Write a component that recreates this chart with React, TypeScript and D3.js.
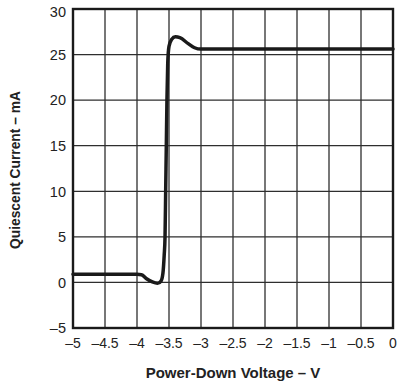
import React from "react";
import * as d3 from "d3";

const xTicks = [-5, -4.5, -4, -3.5, -3, -2.5, -2, -1.5, -1, -0.5, 0];
const yTicks = [-5, 0, 5, 10, 15, 20, 25, 30];
const voltage = [-5, -4.0, -3.93, -3.85, -3.76, -3.68, -3.625, -3.595, -3.575, -3.562, -3.552, -3.542, -3.532, -3.52, -3.5, -3.46, -3.4, -3.33, -3.2, -3.1, -3.0, 0];
const current = [0.9, 0.9, 0.85, 0.4, 0.05, -0.1, 0.15, 1, 3, 5, 10, 15, 20, 24, 25.9, 26.65, 26.95, 26.85, 26.2, 25.75, 25.6, 25.6];

const fmt = (v: number) => (v < 0 ? "\u2013" + String(Math.abs(v)) : String(v));

export default function App() {
  const W = 400, H = 384;
  const left = 73, right = 393, top = 9, bottom = 328;
  const x = d3.scaleLinear().domain([-5, 0]).range([left, right]);
  const y = d3.scaleLinear().domain([-5, 30]).range([bottom, top]);
  const pts = voltage.map((v, i) => [v, current[i]] as [number, number]);
  const line = d3
    .line<[number, number]>()
    .x((d) => x(d[0]))
    .y((d) => y(d[1]))
    .curve(d3.curveMonotoneX);
  const font = "'Liberation Sans', Arial, sans-serif";
  return (
    <svg width={W} height={H} style={{ position: "absolute", left: 0, top: 0 }}>
      <rect width={W} height={H} fill="#fff" />
      {xTicks.map((t) => (
        <line key={"gx" + t} x1={x(t)} x2={x(t)} y1={top} y2={bottom} stroke="#2e2e2e" strokeWidth={1.3} />
      ))}
      {yTicks.map((t) => (
        <line key={"gy" + t} x1={left} x2={right} y1={y(t)} y2={y(t)} stroke="#2e2e2e" strokeWidth={1.3} />
      ))}
      <rect x={left} y={top} width={right - left} height={bottom - top} fill="none" stroke="#1a1a1a" strokeWidth={2.4} />
      <path d={line(pts) || ""} fill="none" stroke="#1a1a1a" strokeWidth={3.5} strokeLinejoin="round" strokeLinecap="round" />
      {yTicks.map((t) => (
        <text key={"ty" + t} x={66} y={Math.max(y(t), 12) + 5.3} textAnchor="end" fontFamily={font} fontSize={14.5} fill="#222">
          {fmt(t)}
        </text>
      ))}
      {xTicks.map((t) => (
        <text key={"tx" + t} x={x(t)} y={348} textAnchor="middle" fontFamily={font} fontSize={14} fill="#222">
          {fmt(t)}
        </text>
      ))}
      <text x={233} y={377.5} textAnchor="middle" fontFamily={font} fontSize={15} fontWeight="bold" fill="#222">
        Power-Down Voltage – V
      </text>
      <text
        transform={`translate(19.5,170) rotate(-90)`}
        textAnchor="middle"
        fontFamily={font}
        fontSize={13.8}
        fontWeight="bold"
        fill="#222"
      >
        Quiescent Current – mA
      </text>
    </svg>
  );
}
